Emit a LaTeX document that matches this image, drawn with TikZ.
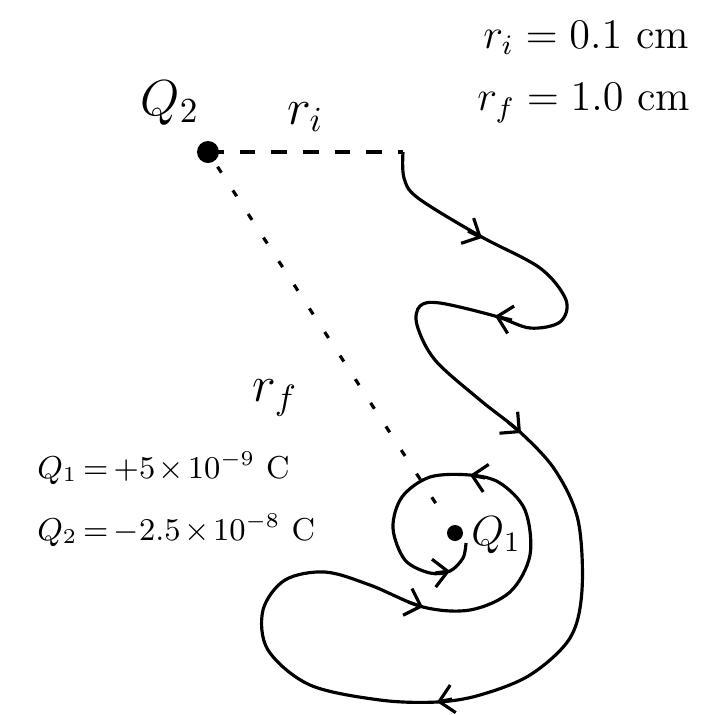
\documentclass[tikz,border=0pt]{standalone}
\usepackage{amsmath}
\usepackage{amssymb}
\usetikzlibrary{arrows.meta}

\begin{document}
\begin{tikzpicture}[x=0.01cm,y=-0.01cm,line width=0.9pt,
    barb/.style={-{Straight Barb[length=4pt,width=8pt]}},
    sepline/.style={dash pattern=on 4.5pt off 4.5pt},
    radline/.style={dash pattern=on 2pt off 6pt},
    tight/.style={execute at begin node={\medmuskip=2mu\thickmuskip=3mu}}]
	\useasboundingbox (0,0) rectangle (724,714);
	\coordinate (q2) at (208,152);
	\coordinate (q1) at (455,533);
	\coordinate (corner) at (403,152);
	\fill[black] (q2) circle (11);
	\fill[black] (q1) circle (8);
	\node (lq2) at (170,103) {\Large $Q_2$};
	\node (lq1) at (496,535) {\large $Q_1$};
	\draw[sepline] (q2) -- (corner) node[pos=0.5,above=2pt] (lri) {\Large $r_i$};
	\draw[radline,shorten <=5pt,shorten >=6pt] (q2) -- (q1);
	\node (lrf) at (275,398) {\Large $r_f$};
	\draw plot[smooth,tension=0.55] coordinates {(403,152) (404,178) (418,198) (480,236) (540,268) (566,300) (560,322) (530,328) (495,316) (440,303) (420,306) (417,325) (435,360) (480,400) (520,432) (555,470) (578,520) (582,590) (570,638) (530,675) (480,695) (437,702) (380,700) (310,685) (268,650) (263,610) (285,580) (325,572) (370,585) (423,607) (470,610) (510,592) (530,555) (525,510) (500,483) (470,475) (430,477) (402,497) (393,528) (405,560) (430,573) (450,571) (463,558) (466,543)};
	\draw[barb] (468,231) -- (482,238);
	\draw[barb] (512,320) -- (495,316);
	\draw[barb] (508,422) -- (521,433);
	\draw[barb] (452,699) -- (437,702);
	\draw[barb] (408,602) -- (423,607);
	\draw[barb] (485,478) -- (470,475);
	\draw[barb] (435,573) -- (450,571);
	\node[anchor=west] (given1) at (470,38) {\large $r_i = 0.1$ cm};
	\node[anchor=west] (given2) at (464,103) {\large $r_f = 1.0$ cm};
	\node[anchor=west,tight] (charge1) at (24,468) {\small $Q_1 = +5\times10^{-9}$ C};
	\node[anchor=west,tight] (charge2) at (24,530) {\small $Q_2 = -2.5\times10^{-8}$ C};
\end{tikzpicture}
\end{document}
